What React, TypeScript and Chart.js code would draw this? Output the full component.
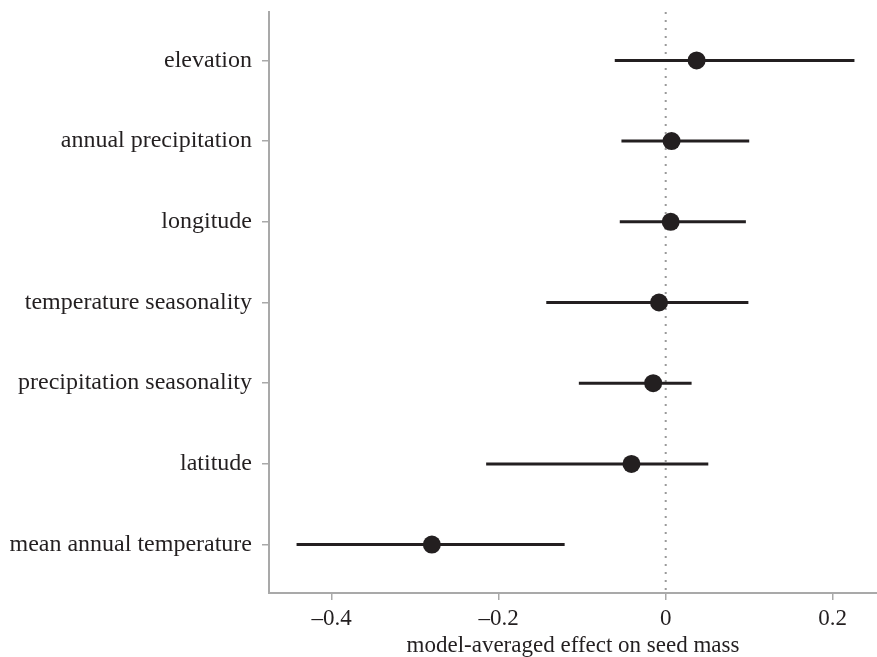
import React, { useEffect, useRef } from "react";
import { Chart, registerables } from "chart.js";

Chart.register(...registerables);

const categories = [
  "elevation",
  "annual precipitation",
  "longitude",
  "temperature seasonality",
  "precipitation seasonality",
  "latitude",
  "mean annual temperature",
];
const estimates = [0.037, 0.007, 0.006, -0.008, -0.015, -0.041, -0.28];
const lower = [-0.061, -0.053, -0.055, -0.143, -0.104, -0.215, -0.442];
const upper = [0.226, 0.1, 0.096, 0.099, 0.031, 0.051, -0.121];
const xTicks = [-0.4, -0.2, 0, 0.2];
const xTickLabels = ["\u20130.4", "\u20130.2", "0", "0.2"];
const xTitle = "model-averaged effect on seed mass";

const INK = "#231f20";
const AXIS = "#a9a9a9";
const FONT = "'Liberation Serif', 'Times New Roman', serif";

export default function App() {
  const ref = useRef<HTMLCanvasElement | null>(null);

  useEffect(() => {
    if (!ref.current) return;
    const rows = categories.map((_, i) => i + 1);
    const barSets = rows.map((r, i) => ({
      type: "line" as const,
      data: [
        { x: lower[i], y: r },
        { x: upper[i], y: r },
      ],
      borderColor: INK,
      borderWidth: 3,
      pointRadius: 0,
      showLine: true,
      fill: false,
      order: 2,
    }));
    const chart = new Chart(ref.current, {
      type: "scatter",
      data: {
        datasets: [
          {
            type: "line" as const,
            data: [
              { x: 0, y: 0.4 },
              { x: 0, y: 7.6 },
            ],
            borderColor: "#9a9a9a",
            borderWidth: 2,
            borderDash: [2, 6],
            pointRadius: 0,
            showLine: true,
            fill: false,
            order: 3,
          } as any,
          ...(barSets as any[]),
          {
            data: rows.map((r, i) => ({ x: estimates[i], y: r })),
            backgroundColor: INK,
            borderColor: INK,
            pointRadius: 9,
            pointHoverRadius: 9,
            borderWidth: 0,
            order: 1,
          },
        ],
      },
      options: {
        responsive: false,
        animation: false,
        events: [],
        layout: { autoPadding: false, padding: { top: 12, left: 0, right: 0, bottom: 0 } },
        plugins: {
          legend: { display: false },
          tooltip: { enabled: false },
        },
        scales: {
          x: {
            type: "linear",
            min: -0.475,
            max: 0.253,
            afterBuildTicks: (scale: any) => {
              scale.ticks = xTicks.map((v) => ({ value: v }));
            },
            afterFit: (scale: any) => {
              scale.height = 64;
              scale.paddingLeft = 0;
              scale.paddingRight = 0;
            },
            grid: {
              drawOnChartArea: false,
              drawTicks: true,
              tickLength: 7,
              color: AXIS,
              lineWidth: 1.5,
            },
            border: { display: true, color: AXIS, width: 2 },
            ticks: {
              color: INK,
              padding: 5,
              font: { family: FONT, size: 23 },
              maxRotation: 0,
              callback: (v: any) => {
                const idx = xTicks.findIndex((t) => Math.abs(t - Number(v)) < 1e-9);
                return idx >= 0 ? xTickLabels[idx] : "";
              },
            },
            title: {
              display: true,
              text: xTitle,
              color: INK,
              font: { family: FONT, size: 23 },
              padding: { top: 0, bottom: -3 },
            },
          },
          y: {
            type: "linear",
            reverse: true,
            min: 0.4,
            max: 7.6,
            afterBuildTicks: (scale: any) => {
              scale.ticks = rows.map((v) => ({ value: v }));
            },
            afterFit: (scale: any) => {
              scale.width = 269;
              scale.paddingTop = 0;
              scale.paddingBottom = 0;
            },
            grid: {
              drawOnChartArea: false,
              drawTicks: true,
              tickLength: 7,
              color: AXIS,
              lineWidth: 1.5,
            },
            border: { display: true, color: AXIS, width: 2 },
            ticks: {
              color: INK,
              padding: 10,
              font: { family: FONT, size: 24 },
              callback: (v: any) => categories[Math.round(Number(v)) - 1] ?? "",
            },
          },
        },
      },
    });
    return () => chart.destroy();
  }, []);

  return (
    <div style={{ position: "fixed", left: 0, top: 0, width: 877, height: 657, background: "#fff" }}>
      <canvas ref={ref} width={877} height={657} style={{ width: 877, height: 657, display: "block" }} />
    </div>
  );
}
